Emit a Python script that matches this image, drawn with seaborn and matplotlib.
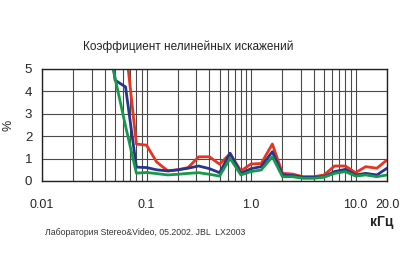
import matplotlib
matplotlib.use("Agg")
import matplotlib.pyplot as plt
import matplotlib.ticker as mticker
import numpy as np
import pandas as pd
import seaborn as sns

freq_khz = [0.04, 0.05, 0.063, 0.08, 0.1, 0.125, 0.16, 0.2, 0.25, 0.315, 0.4, 0.5,
            0.63, 0.8, 1.0, 1.25, 1.6, 2.0, 2.5, 3.15, 4.0, 5.0, 6.3, 8.0, 10.0,
            12.5, 16.0, 20.0]
thd_red = [9.0, 8.0, 6.1, 1.65, 1.6, 0.85, 0.45, 0.5, 0.6, 1.08, 1.08, 0.75,
           1.22, 0.45, 0.76, 0.78, 1.65, 0.34, 0.31, 0.19, 0.19, 0.27, 0.67, 0.67,
           0.37, 0.64, 0.57, 0.94]
thd_blue = [8.0, 4.5, 4.2, 0.62, 0.6, 0.5, 0.45, 0.5, 0.57, 0.67, 0.55, 0.37,
            1.24, 0.34, 0.55, 0.64, 1.31, 0.27, 0.24, 0.17, 0.17, 0.19, 0.42, 0.52,
            0.27, 0.34, 0.27, 0.57]
thd_green = [7.0, 4.6, 2.45, 0.35, 0.38, 0.33, 0.27, 0.3, 0.34, 0.37, 0.3, 0.22,
             1.01, 0.27, 0.42, 0.49, 1.08, 0.19, 0.19, 0.12, 0.12, 0.17, 0.34, 0.42,
             0.22, 0.27, 0.19, 0.27]
series_names = ["red", "blue", "green"]
series_colors = ["#e8341f", "#27358a", "#17984a"]

xtick_values = [0.01, 0.1, 1.0, 10.0, 20.0]
xtick_labels = ["0.01", "0.1", "1.0", "10.0", "20.0"]
ytick_values = [0, 1, 2, 3, 4, 5]

title_text = "Коэффициент нелинейных искажений"
ylabel_text = "%"
xlabel_text = "кГц"
footnote_text = "Лаборатория Stereo&Video, 05.2002. JBL  LX2003"

df = pd.concat([
    pd.DataFrame({"f": freq_khz, "thd": vals, "series": name})
    for name, vals in zip(series_names, [thd_red, thd_blue, thd_green])
])

sns.set_style("white")
plt.rcParams["font.family"] = ["Liberation Sans", "DejaVu Sans"]

fig = plt.figure(figsize=(4.0, 2.8), dpi=100)
ax = fig.add_axes([0.105, 0.3536, 0.8625, 0.4]) 

ax.set_xscale("log")
ax.set_xlim(0.01, 20)
ax.set_ylim(0, 5)

ax.xaxis.set_major_locator(mticker.FixedLocator(xtick_values))
ax.xaxis.set_major_formatter(mticker.FixedFormatter(xtick_labels))
ax.xaxis.set_minor_locator(mticker.LogLocator(base=10, subs=np.arange(2, 10), numticks=20))
ax.xaxis.set_minor_formatter(mticker.NullFormatter())
ax.yaxis.set_major_locator(mticker.FixedLocator(ytick_values))
ax.yaxis.set_minor_locator(mticker.MultipleLocator(0.1))

ax.grid(which="both", axis="x", color="#4a4a4a", lw=0.8)
ax.grid(which="major", axis="y", color="#4a4a4a", lw=0.8)
ax.set_axisbelow(True)

sns.lineplot(data=df, x="f", y="thd", hue="series", hue_order=series_names,
             palette=series_colors, sort=False, lw=2.0, legend=False, ax=ax,
             estimator=None)

for s in ax.spines.values():
    s.set_color("#222222")
    s.set_linewidth(1.0)

ax.tick_params(axis="x", which="major", direction="out", length=9, width=0.8,
               labelsize=9, pad=4, color="#333333")
ax.tick_params(axis="x", which="minor", direction="out", length=5, width=0.6,
               color="#555555")
ax.tick_params(axis="y", which="major", direction="out", length=5, width=0.8,
               labelsize=9.5, pad=2, color="#333333")
ax.tick_params(axis="y", which="minor", direction="out", length=2.5, width=0.5,
               color="#555555")
ax.set_xlabel("")
ax.set_ylabel("")

fig.text(0.47, 0.832, title_text, ha="center", va="center", fontsize=8.5, color="#222222")
fig.text(0.022, 0.553, ylabel_text, ha="center", va="center", rotation=90,
         fontsize=9, color="#222222")
fig.text(0.953, 0.207, xlabel_text, ha="center", va="center", fontsize=10,
         color="#222222", fontweight="bold")
fig.text(0.112, 0.171, footnote_text, ha="left", va="center", fontsize=6.3,
         color="#333333")

fig.savefig("out.png", dpi=100, facecolor="white")
